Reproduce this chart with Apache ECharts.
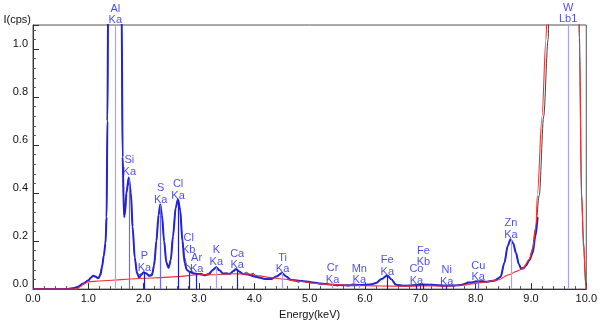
<!DOCTYPE html>
<html><head><meta charset="utf-8">
<script src="https://cdn.jsdelivr.net/npm/echarts@6/dist/echarts.min.js"></script>
<style>html,body{margin:0;padding:0;background:#fff}#c{width:600px;height:325px}</style>
</head><body><div id="c"></div>
<script>
// ---- element lines ----
const lineElements = ['Al','Si','P','S','Cl','Cl','Ar','K','Ca','Ti','Cr','Mn','Fe','Co','Fe','Ni','Cu','Zn','W'];
const lineNames    = ['Ka','Ka','Ka','Ka','Ka','Kb','Ka','Ka','Ka','Ka','Ka','Ka','Ka','Ka','Kb','Ka','Ka','Ka','Lb1'];
const lineEnergy   = [1.487,1.740,2.013,2.307,2.622,2.815,2.957,3.313,3.690,4.510,5.414,5.898,6.403,6.930,7.057,7.477,8.047,8.638,9.672];
const lineTopCps   = [1.10,0.46,0.07,0.35,0.37,0.07,0.064,0.09,0.084,0.067,0.019,0.017,0.057,0.016,0.019,0.014,0.033,0.208,1.10];
const labelCps     = [1.143,0.513,0.114,0.396,0.413,0.187,0.106,0.137,0.124,0.106,0.064,0.060,0.096,0.059,0.135,0.055,0.073,0.251,1.149];
const lineShade    = ['l','m','d','m','d','d','d','l','d','l','l','l','d','d','d','d','m','l','l'];

// ---- measured spectrum ----
const measEnergy = [0,0.5,0.65,0.75,0.82,0.9,1.0,1.05,1.1,1.15,1.19,1.22,1.25,1.28,1.31,1.33,1.345,1.36,1.4,1.49,1.57,1.6,1.62,1.645,1.66,1.69,1.73,1.77,1.8,1.84,1.88,1.92,1.96,2.0,2.04,2.08,2.12,2.16,2.2,2.23,2.27,2.3,2.33,2.37,2.41,2.45,2.49,2.53,2.58,2.62,2.66,2.7,2.74,2.78,2.82,2.86,2.92,2.98,3.04,3.1,3.16,3.22,3.28,3.32,3.38,3.44,3.5,3.56,3.62,3.68,3.74,3.8,3.86,3.92,3.98,4.04,4.1,4.16,4.22,4.3,4.38,4.44,4.5,4.56,4.62,4.68,4.74,4.8,4.86,4.92,5.0,5.1,5.2,5.3,5.4,5.5,5.6,5.7,5.78,5.84,5.92,6.0,6.1,6.2,6.3,6.4,6.48,6.56,6.64,6.72,6.8,6.9,7.0,7.1,7.2,7.3,7.4,7.5,7.6,7.7,7.8,7.86,7.92,8.0,8.06,8.12,8.2,8.3,8.4,8.46,8.52,8.58,8.63,8.68,8.73,8.78,8.82,8.86,8.91,8.97,9.02,9.08,9.15,9.23,9.31,9.34,9.45,9.67,9.85,9.875,9.915,9.95,9.99,10.0];
const measCps = [0,0,0.002,0.006,0.012,0.024,0.038,0.05,0.055,0.048,0.048,0.07,0.1,0.14,0.2,0.32,0.7,1.3,2.5,3.2,2.5,1.2,0.55,0.31,0.32,0.41,0.46,0.39,0.25,0.13,0.07,0.06,0.065,0.07,0.068,0.062,0.058,0.07,0.12,0.2,0.31,0.35,0.31,0.2,0.115,0.092,0.125,0.22,0.34,0.37,0.33,0.21,0.13,0.1,0.095,0.08,0.066,0.062,0.066,0.058,0.064,0.075,0.088,0.092,0.076,0.066,0.068,0.062,0.074,0.082,0.07,0.064,0.07,0.06,0.066,0.052,0.05,0.044,0.045,0.04,0.05,0.06,0.066,0.056,0.042,0.036,0.034,0.028,0.036,0.03,0.026,0.028,0.02,0.022,0.018,0.013,0.018,0.012,0.022,0.02,0.017,0.015,0.02,0.026,0.042,0.056,0.04,0.02,0.012,0.016,0.014,0.018,0.02,0.016,0.02,0.014,0.012,0.016,0.012,0.018,0.02,0.03,0.024,0.034,0.03,0.035,0.03,0.032,0.045,0.055,0.11,0.18,0.205,0.19,0.15,0.105,0.088,0.09,0.1,0.12,0.16,0.25,0.39,0.72,1.04,1.3,2.5,4,1.8,1.05,0.39,0.18,0.02,0];

// ---- fitted spectrum ----
const fitEnergy = [0,0.6,0.7,0.8,0.9,1.0,1.05,1.09,1.13,1.18,1.22,1.25,1.28,1.31,1.33,1.345,1.36,1.4,1.49,1.57,1.6,1.62,1.645,1.66,1.69,1.73,1.77,1.8,1.84,1.88,1.92,1.96,2.0,2.04,2.1,2.15,2.19,2.23,2.27,2.3,2.33,2.37,2.41,2.45,2.49,2.53,2.58,2.62,2.66,2.7,2.74,2.78,2.83,2.9,3.0,3.1,3.18,3.25,3.31,3.37,3.44,3.56,3.62,3.67,3.72,3.8,3.9,4.0,4.1,4.21,4.3,4.4,4.5,4.58,4.66,4.8,4.9,5.06,5.2,5.36,5.5,5.7,5.9,6.1,6.2,6.3,6.4,6.48,6.56,6.7,6.9,7.06,7.2,7.47,7.7,7.9,8.05,8.2,8.35,8.45,8.52,8.58,8.63,8.68,8.73,8.78,8.82,8.86,8.91,8.97,9.03,9.08,9.12];
const fitCps = [0,0,0.002,0.008,0.022,0.036,0.048,0.056,0.052,0.045,0.06,0.095,0.14,0.19,0.3,0.7,1.3,2.5,3.2,2.5,1.2,0.55,0.3,0.31,0.4,0.465,0.4,0.26,0.13,0.065,0.048,0.06,0.07,0.066,0.055,0.058,0.1,0.2,0.31,0.352,0.31,0.2,0.11,0.088,0.12,0.22,0.34,0.374,0.33,0.2,0.11,0.08,0.072,0.065,0.063,0.058,0.062,0.08,0.091,0.078,0.064,0.064,0.075,0.084,0.074,0.063,0.06,0.053,0.047,0.042,0.042,0.052,0.067,0.052,0.038,0.035,0.033,0.028,0.023,0.019,0.017,0.016,0.017,0.019,0.025,0.042,0.057,0.04,0.018,0.014,0.016,0.019,0.018,0.014,0.016,0.027,0.033,0.031,0.036,0.05,0.11,0.18,0.208,0.19,0.15,0.105,0.085,0.086,0.098,0.12,0.15,0.22,0.3];

// ---- background ----
const bgEnergy = [0,0.8,0.85,0.92,1.0,1.2,1.5,1.7,2.0,2.3,2.6,3.0,3.3,3.6,3.9,4.1,4.3,4.5,4.8,5.1,5.4,5.7,6.0,6.3,6.6,7.0,7.5,7.8,8.1,8.4,8.6,8.75,8.85,8.97,9.03,9.09,9.115,9.2,9.27,9.3,9.4,9.67,9.82,9.874,9.915,9.95,9.99,10.0];
const bgCps = [0,0,0.01,0.022,0.03,0.034,0.038,0.041,0.045,0.048,0.052,0.06,0.06,0.064,0.063,0.055,0.048,0.042,0.033,0.024,0.019,0.016,0.014,0.013,0.012,0.013,0.013,0.017,0.027,0.038,0.06,0.075,0.085,0.124,0.17,0.26,0.39,0.72,1.04,1.2,2.2,4,2.0,1.04,0.39,0.2,0.02,0];

const xTicks = [0,1,2,3,4,5,6,7,8,9,10];

const zip = (a, b) => a.map((v, i) => [v, b[i]]);
const shadeColor = { l: '#a4a4ff', m: '#6a6aff', d: '#1a1ad8' };

const chart = echarts.init(document.getElementById('c'), null, { renderer: 'canvas' });
const font = 'Arial, "Liberation Sans", sans-serif';

chart.setOption({
  animation: false,
  backgroundColor: '#fff',
  grid: { left: 33, right: 13, top: 25, bottom: 28, show: true, borderColor: '#555', borderWidth: 1, backgroundColor: 'transparent' },
  xAxis: {
    type: 'value', min: xTicks[0], max: xTicks[xTicks.length - 1], interval: 1,
    name: 'Energy(keV)', nameLocation: 'middle', nameGap: 12,
    nameTextStyle: { fontFamily: font, fontSize: 11, color: '#111' },
    axisLine: { lineStyle: { color: '#333', width: 1 } },
    axisTick: { inside: true, length: 6, lineStyle: { color: '#333' } },
    minorTick: { show: true, splitNumber: 5, length: 3, lineStyle: { color: '#555' } },
    splitLine: { show: false },
    axisLabel: { margin: 4, fontFamily: font, fontSize: 11, color: '#111', formatter: v => v.toFixed(1) }
  },
  yAxis: {
    type: 'value', min: 0, max: 1.1, interval: 0.2,
    name: 'I(cps)', nameLocation: 'end', nameGap: 5,
    nameTextStyle: { fontFamily: font, fontSize: 11, color: '#111', align: 'right', verticalAlign: 'middle', padding: [0, 2, 0, 0] },
    axisLine: { show: true, lineStyle: { color: '#333', width: 1 } },
    axisTick: { inside: true, length: 6, lineStyle: { color: '#333' } },
    minorTick: { show: true, splitNumber: 5, length: 3, lineStyle: { color: '#555' } },
    splitLine: { show: false },
    axisLabel: { margin: 5, fontFamily: font, fontSize: 11, color: '#111', verticalAlign: 'bottom', showMaxLabel: false,
      formatter: v => (Math.abs(v * 5 - Math.round(v * 5)) < 1e-6 ? v.toFixed(1) : '') }
  },
  series: [
    {
      type: 'line', data: [], z: 1, silent: true,
      markLine: {
        silent: true, symbol: 'none', animation: false, label: { show: false },
        data: lineEnergy.map((e, i) => [
          { coord: [e, 0], lineStyle: { color: shadeColor[lineShade[i]], width: 1.2, type: 'solid' } },
          { coord: [e, lineTopCps[i]] }
        ])
      }
    },
    {
      name: 'measured', type: 'line', data: zip(measEnergy, measCps), showSymbol: false, smooth: 0.3, smoothMonotone: 'x',
      lineStyle: { color: '#444', width: 1 }, z: 2, clip: true
    },
    {
      name: 'fit', type: 'line', data: zip(fitEnergy, fitCps), showSymbol: false, smooth: 0.3, smoothMonotone: 'x',
      lineStyle: { color: '#2424d4', width: 2 }, z: 3, clip: true
    },
    {
      name: 'background', type: 'line', data: zip(bgEnergy, bgCps), showSymbol: false, smooth: 0.3, smoothMonotone: 'x',
      lineStyle: { color: '#ff2a2a', width: 1.1 }, z: 4, clip: true
    },
    {
      name: 'labels', type: 'scatter', clip: false, symbolSize: 1, z: 5, silent: true,
      itemStyle: { color: 'rgba(0,0,0,0)' },
      data: lineEnergy.map((e, i) => ({ value: [e, labelCps[i]], name: lineElements[i] + '\n' + lineNames[i] })),
      label: { show: true, position: 'inside', align: 'center', verticalAlign: 'middle', formatter: p => p.name,
        fontFamily: font, fontSize: 11, lineHeight: 11.5, color: '#1e1ee6' }
    }
  ]
});
</script></body></html>
